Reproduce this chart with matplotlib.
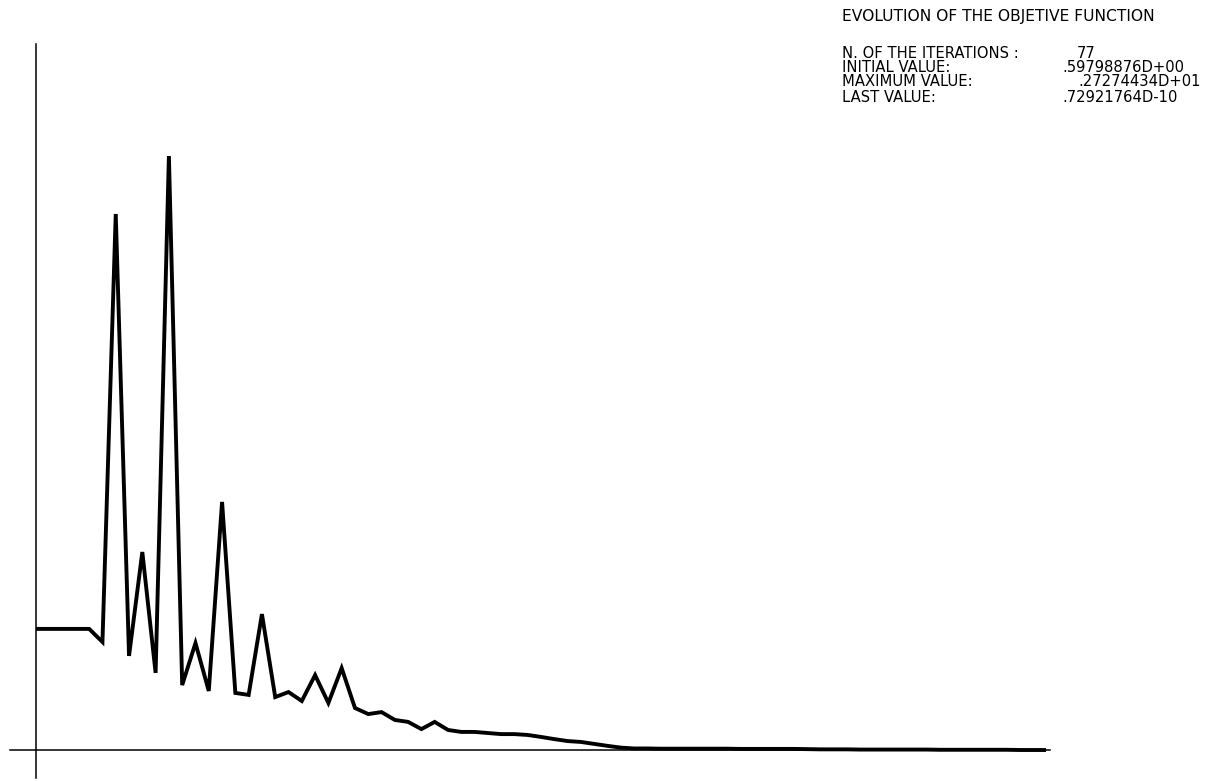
import numpy as np
import matplotlib
matplotlib.use("Agg")
import matplotlib.pyplot as plt

# Objective function value at each iteration
values = [0.556, 0.556, 0.556, 0.556, 0.556, 0.496, 2.461, 0.432, 0.909, 0.354,
          2.727, 0.298, 0.491, 0.271, 1.139, 0.262, 0.253, 0.624, 0.243, 0.266,
          0.225, 0.344, 0.216, 0.376, 0.193, 0.165, 0.174, 0.138, 0.129, 0.096,
          0.129, 0.092, 0.083, 0.083, 0.078, 0.073, 0.073, 0.069, 0.060, 0.050,
          0.041, 0.037, 0.028, 0.019, 0.011, 0.007, 0.007, 0.006, 0.006, 0.006,
          0.006, 0.006, 0.006, 0.005, 0.005, 0.005, 0.005, 0.005, 0.004, 0.003,
          0.003, 0.003, 0.002, 0.002, 0.002, 0.002, 0.002, 0.002, 0.001, 0.001,
          0.001, 0.001, 0.001, 0.001, 0.000, 0.000, 0.000]
iterations = np.arange(len(values))

title = "EVOLUTION OF THE OBJETIVE FUNCTION"
info_labels = ["N. OF THE ITERATIONS :", "INITIAL VALUE:", "MAXIMUM VALUE:", "LAST VALUE:"]
info_values = ["77", ".59798876D+00", ".27274434D+01", ".72921764D-10"]

W, H = 1211, 781
fig = plt.figure(figsize=(W / 100, H / 100), dpi=100)
ax = fig.add_axes([0, 0, 1, 1])

# pixel layout of the old plotter sheet
px_x0, px_dx = 36, 13.29      # x pixel of iteration 0, pixels per iteration
px_y0, px_dy = 750, 217.8     # y pixel of zero, pixels per unit
ax.set_xlim(-px_x0 / px_dx, (W - px_x0) / px_dx)
ax.set_ylim((px_y0 - H) / px_dy, px_y0 / px_dy)

ax.plot(iterations, values, color="black", lw=2.8, solid_joinstyle="miter",
        solid_capstyle="butt")

for s in ["top", "right"]:
    ax.spines[s].set_visible(False)
ax.spines["left"].set_position(("data", 0))
ax.spines["bottom"].set_position(("data", 0))
ax.spines["left"].set_bounds((px_y0 - 778) / px_dy, (px_y0 - 44) / px_dy)
ax.spines["bottom"].set_bounds((10 - px_x0) / px_dx, (1050 - px_x0) / px_dx)
ax.spines["left"].set_linewidth(1.1)
ax.spines["bottom"].set_linewidth(1.1)
ax.set_xticks([])
ax.set_yticks([])

font = dict(family="DejaVu Sans", fontsize=10.6, color="black", va="center", ha="left")
fig.text(842 / W, 1 - 16 / H, title, **{**font, "fontsize": 11.2})
rows_y = [53, 68, 82, 97]
val_x = [1077, 1062, 1078, 1062]
for lab, val, y, vx in zip(info_labels, info_values, rows_y, val_x):
    fig.text(842 / W, 1 - y / H, lab, **font)
    fig.text(vx / W, 1 - y / H, val, **font)

fig.savefig("out.png", dpi=100, facecolor="white")
